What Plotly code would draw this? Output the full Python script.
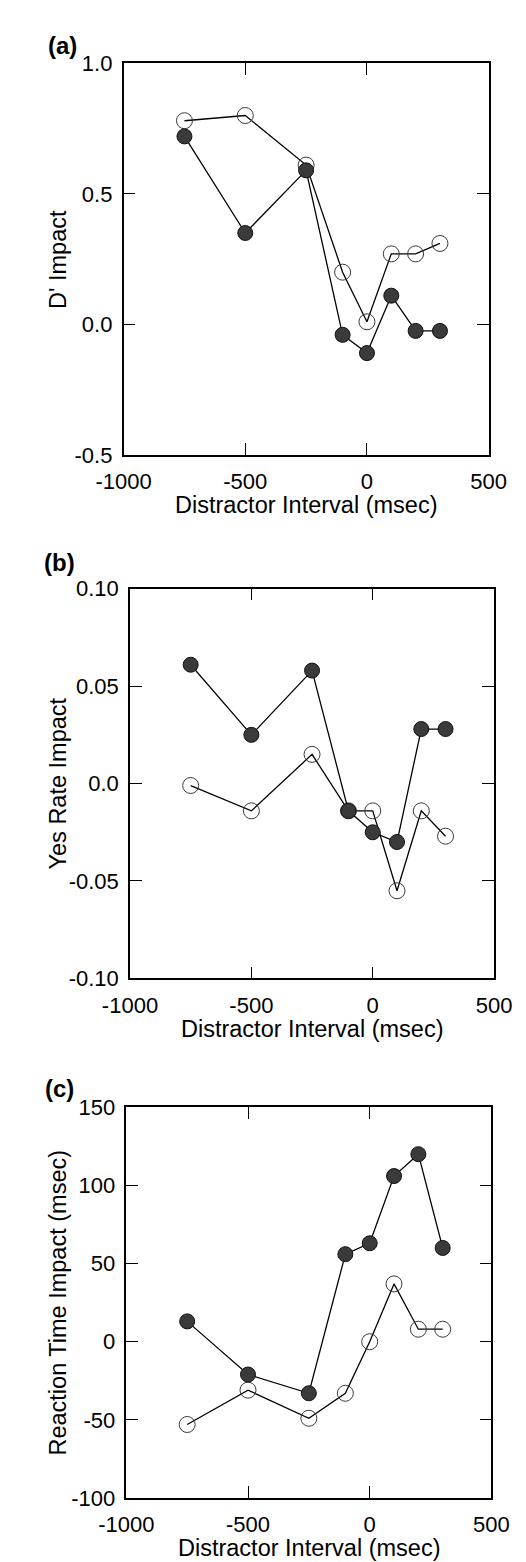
import plotly.graph_objects as go

W, H = 526, 1562

# ---- data ----
intervals = [-750, -500, -250, -100, 0, 100, 200, 300]

dprime_open = [0.78, 0.80, 0.61, 0.20, 0.01, 0.27, 0.27, 0.31]
dprime_filled = [0.72, 0.35, 0.59, -0.04, -0.11, 0.11, -0.025, -0.025]

yes_open = [-0.001, -0.014, 0.015, -0.014, -0.014, -0.055, -0.014, -0.027]
yes_filled = [0.061, 0.025, 0.058, -0.014, -0.025, -0.030, 0.028, 0.028]

rt_open = [-53, -31, -49, -33, 0, 37, 8, 8]
rt_filled = [13, -21, -33, 56, 63, 106, 120, 60]

x_ticks = [-1000, -500, 0, 500]
x_ticklabels = ["-1000", "-500", "0", "500"]

panels = [
    dict(label="(a)", ytitle="D' Impact", open=dprime_open, filled=dprime_filled,
         yrange=[-0.5, 1.0], yticks=[-0.5, 0.0, 0.5, 1.0],
         yticklabels=["-0.5", "0.0", "0.5", "1.0"]),
    dict(label="(b)", ytitle="Yes Rate Impact", open=yes_open, filled=yes_filled,
         yrange=[-0.10, 0.10], yticks=[-0.10, -0.05, 0.0, 0.05, 0.10],
         yticklabels=["-0.10", "-0.05", "0.0", "0.05", "0.10"]),
    dict(label="(c)", ytitle="Reaction Time Impact (msec)", open=rt_open, filled=rt_filled,
         yrange=[-100, 150], yticks=[-100, -50, 0, 50, 100, 150],
         yticklabels=["-100", "-50", "0", "50", "100", "150"]),
]

# pixel geometry of each panel: left, right, top, bottom
boxes = [(96, 496, 44, 442), (103, 502, 578, 974), (99, 499, 1105, 1502)]
label_pos = [(29, 26), (26, 551), (26, 1086)]

FONT = "Liberation Sans, Arial, Helvetica, sans-serif"
fig = go.Figure()
annotations = []
layout = {}

for i, (p, (l, r, t, b)) in enumerate(zip(panels, boxes)):
    n = "" if i == 0 else str(i + 1)
    xa, ya = "x" + n, "y" + n
    fig.add_trace(go.Scatter(
        x=intervals, y=p["open"], xaxis=xa, yaxis=ya, mode="lines+markers",
        line=dict(color="black", width=1.3),
        marker=dict(symbol="circle-open", size=16, color="#3a3a3a", line=dict(width=1)),
        showlegend=False))
    fig.add_trace(go.Scatter(
        x=intervals, y=p["filled"], xaxis=xa, yaxis=ya, mode="lines+markers",
        line=dict(color="black", width=1.3),
        marker=dict(symbol="circle", size=15, color="#3a3a3a",
                    line=dict(width=1, color="#111111")),
        showlegend=False))
    axis_common = dict(showgrid=False, zeroline=False, showline=True, linecolor="black",
                       linewidth=1.5, mirror="ticks", ticks="inside", ticklen=12,
                       tickwidth=1.3, tickcolor="black",
                       tickfont=dict(family=FONT, size=22, color="black"))
    layout["xaxis" + n] = dict(axis_common, domain=[l / W, r / W], range=[-1000, 500],
                               tickvals=x_ticks, ticktext=x_ticklabels, anchor=ya,
                               ticklabelstandoff=6)
    layout["yaxis" + n] = dict(axis_common, domain=[1 - b / H, 1 - t / H], range=p["yrange"],
                               tickvals=p["yticks"], ticktext=p["yticklabels"], anchor=xa,
                               ticklabelstandoff=5)
    # axis titles
    annotations.append(dict(text="Distractor Interval (msec)", x=(l + r) / 2 / W,
                            y=1 - (b + 51) / H, xref="paper", yref="paper",
                            xanchor="center", yanchor="middle", showarrow=False,
                            font=dict(family=FONT, size=23.5, color="black")))
    annotations.append(dict(text=p["ytitle"], x=24 / W, y=1 - (t + b) / 2 / H,
                            xref="paper", yref="paper", textangle=-90,
                            xanchor="center", yanchor="middle", showarrow=False,
                            font=dict(family=FONT, size=23.5, color="black")))
    lx, ly = label_pos[i]
    annotations.append(dict(text="<b>%s</b>" % p["label"], x=lx / W, y=1 - ly / H,
                            xref="paper", yref="paper", xanchor="center",
                            yanchor="middle", showarrow=False,
                            font=dict(family=FONT, size=24, color="black")))

fig.update_layout(**layout)
fig.update_layout(width=W, height=H, margin=dict(l=0, r=0, t=0, b=0),
                  paper_bgcolor="white", plot_bgcolor="white",
                  annotations=annotations, showlegend=False)

fig.write_html("out.html")
